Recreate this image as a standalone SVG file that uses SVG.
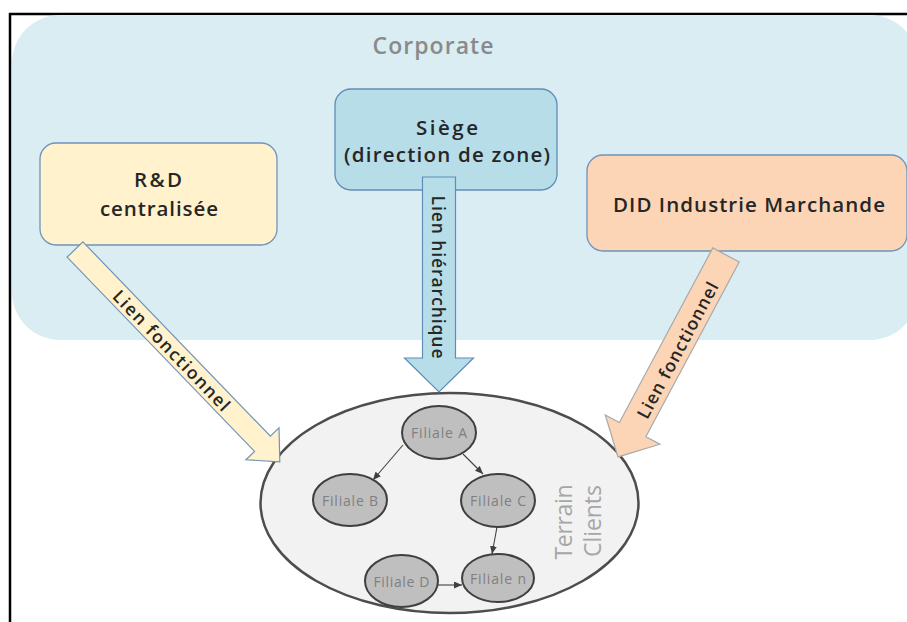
<svg xmlns="http://www.w3.org/2000/svg" width="907" height="622" viewBox="0 0 907 622">
<defs>
<style>
.box{stroke-width:1.3}
.t{font-family:"Open Sans","Liberation Sans",sans-serif;font-weight:600;fill:#262626;text-anchor:middle}
.bt{font-size:20.5px}
.lt{font-size:17.5px;dominant-baseline:central}
.arr{stroke-width:1.2;stroke-linejoin:miter}
.fil ellipse{fill:#BFBFBF;stroke:#3F3F3F;stroke-width:2}
.ft{font-family:"Open Sans","Liberation Sans",sans-serif;font-size:14px;fill:#808080;text-anchor:middle;dominant-baseline:central}
.sl{stroke:#404040;stroke-width:1.1;fill:none;marker-end:url(#ah)}
</style>
<marker id="ah" markerUnits="userSpaceOnUse" markerWidth="8" markerHeight="7" refX="8" refY="3.5" orient="auto">
<path d="M0,0 L8,3.5 L0,7 z" fill="#404040"/>
</marker>
</defs>
<rect width="907" height="622" fill="#ffffff"/>
<g id="frame">
<line x1="9" y1="14" x2="907" y2="14" stroke="#000" stroke-width="2.5"/>
<line x1="10" y1="13" x2="10" y2="622" stroke="#000" stroke-width="2.5"/>
</g>
<g id="corporate">
<rect x="12" y="15" width="906" height="325" rx="48" ry="48" fill="#DAEDF3"/>
<text x="433" y="54" font-family="Open Sans, Liberation Sans, sans-serif" font-weight="600" font-size="23" fill="#8A8A8A" text-anchor="middle" textLength="121">Corporate</text>
</g>
<g id="terrain">
<ellipse cx="449.5" cy="503" rx="189" ry="110" fill="#F2F2F2" stroke="#4D4D4D" stroke-width="2.5"/>
<text transform="translate(572,522) rotate(-90)" font-family="Open Sans, Liberation Sans, sans-serif" font-size="23" fill="#A6A6A6" text-anchor="middle" textLength="75">Terrain</text>
<text transform="translate(601,521) rotate(-90)" font-family="Open Sans, Liberation Sans, sans-serif" font-size="23" fill="#A6A6A6" text-anchor="middle" textLength="72">Clients</text>
</g>
<g id="rd">
<rect class="box" x="40" y="143" width="237" height="102" rx="16" fill="#FFF2CC" stroke="#7093BA"/>
<text class="t bt" x="158" y="187" textLength="48">R&amp;D</text>
<text class="t bt" x="159" y="216" textLength="118">centralisée</text>
</g>
<g id="siege">
<rect class="box" x="335" y="89" width="222" height="101" rx="16" fill="#B7DDE8" stroke="#5F8DB8"/>
<text class="t bt" x="447" y="135" textLength="62">Siège</text>
<text class="t bt" x="447" y="162" textLength="206">(direction de zone)</text>
</g>
<g id="did">
<rect class="box" x="587" y="155" width="320" height="96" rx="16" fill="#FBD5B5" stroke="#7093BA"/>
<text class="t bt" x="749" y="212" textLength="272">DID Industrie Marchande</text>
</g>
<g id="connectors">
<g id="arrow-rd">
<polygon class="arr" transform="translate(75,249.5) rotate(46.03)" points="0,-11 270,-11 270,-23 295,0 270,23 270,11 0,11" fill="#FFF2CC" stroke="#7093BA"/>
<text class="t lt" transform="translate(172,350) rotate(46.03)" textLength="160">Lien fonctionnel</text>
</g>
<g id="arrow-siege">
<polygon class="arr" points="422.5,177 455.5,177 455.5,358 473.5,358 439,392 404.5,358 422.5,358" fill="#B7DDE8" stroke="#5F8DB8"/>
<text class="t lt" transform="translate(439,277) rotate(90)" textLength="163">Lien hiérarchique</text>
</g>
<g id="arrow-did">
<polygon class="arr" transform="translate(726,255) rotate(118.14)" points="0,-15 198,-15 198,-31 229,0 198,31 198,15 0,15" fill="#FBD5B5" stroke="#A9A9A9"/>
<text class="t lt" transform="translate(677,350) rotate(-61.86)" textLength="152">Lien fonctionnel</text>
</g>
<line class="sl" x1="403" y1="445" x2="373" y2="480"/>
<line class="sl" x1="463" y1="454" x2="483" y2="474"/>
<line class="sl" x1="497" y1="527" x2="492" y2="554"/>
<line class="sl" x1="438" y1="585" x2="462" y2="585"/>
</g>
<g class="fil">
<g id="filiale-a"><ellipse cx="439" cy="432.5" rx="37" ry="26.5"/><text class="ft" x="439" y="432.5" textLength="56">Filiale A</text></g>
<g id="filiale-b"><ellipse cx="350" cy="500" rx="37" ry="26"/><text class="ft" x="350" y="500" textLength="56">Filiale B</text></g>
<g id="filiale-c"><ellipse cx="498" cy="500.5" rx="37" ry="26.5"/><text class="ft" x="498" y="500.5" textLength="56">Filiale C</text></g>
<g id="filiale-d"><ellipse cx="401.5" cy="581" rx="36.5" ry="26"/><text class="ft" x="401.5" y="581" textLength="56">Filiale D</text></g>
<g id="filiale-n"><ellipse cx="498" cy="578" rx="36" ry="24"/><text class="ft" x="498" y="578" textLength="56">Filiale n</text></g>
</g>
</svg>
